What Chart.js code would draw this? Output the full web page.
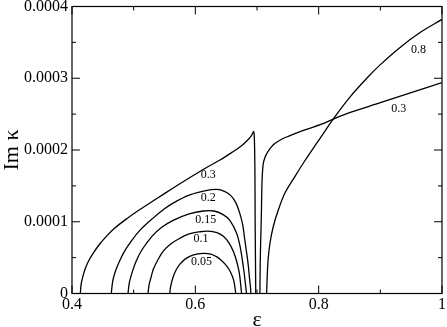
<!DOCTYPE html>
<html><head><meta charset="utf-8">
<script src="https://cdn.jsdelivr.net/npm/chart.js@4/dist/chart.umd.min.js"></script>
<style>html,body{margin:0;padding:0;background:#fff}#wrap{width:447px;height:327px}</style>
</head><body><div id="wrap"><canvas id="c" width="447" height="327"></canvas></div>
<script>
// ---- data (Im kappa in units of 1e-4) ----
const UNIT = 1e-4;
const eps005 = [.5585,.56,.564,.569,.575,.585,.597,.613,.625,.635,.645,.651,.657,.662,.664,.6655];
const im005  = [0,.1,.23,.33,.41,.49,.54,.56,.55,.51,.44,.38,.3,.19,.1,0];
const eps01  = [.5232,.525,.528,.532,.54,.548,.56,.575,.59,.607,.62,.635,.645,.655,.662,.667,.671,.673,.675];
const im01   = [0,.12,.22,.34,.48,.59,.69,.77,.83,.86,.87,.85,.8,.7,.58,.45,.3,.17,0];
const eps015 = [.4908,.493,.497,.504,.5135,.53,.545,.564,.59,.613,.63,.645,.656,.667,.672,.676,.679,.681,.683];
const im015  = [0,.15,.28,.45,.61,.8,.92,1.02,1.11,1.15,1.15,1.1,1.02,.84,.68,.48,.3,.15,0];
const eps02  = [.4637,.466,.47,.477,.486,.497,.51,.53,.55,.564,.59,.615,.635,.648,.658,.666,.672,.677,.680,.684,.686,.688,.6895,.690];
const im02   = [0,.17,.3,.45,.6,.74,.88,1.04,1.18,1.26,1.37,1.43,1.45,1.42,1.36,1.26,1.12,.95,.76,.52,.38,.2,.08,0];
const eps03a = [.4135,.415,.418,.422,.428,.435,.445,.455,.4676,.49,.51,.537,.564,.59,.617,.64,.66,.675,.685,.691,.6945,.6955,.6962,.6967,.697,.6975,.698];
const im03a  = [0,.14,.25,.36,.47,.57,.69,.79,.9,1.05,1.17,1.32,1.47,1.61,1.75,1.86,1.97,2.06,2.14,2.2,2.26,2.2,2.0,1.6,1.0,.5,0];
const eps03b = [.7047,.7053,.7065,.7072,.7078,.7085,.710,.713,.718,.723,.729,.74,.7506,.7776,.8047,.8235,.85,.9,.95,1];
const im03b  = [0,.47,.9,1.16,1.45,1.63,1.8,1.9,1.98,2.04,2.09,2.15,2.19,2.28,2.36,2.43,2.52,2.66,2.8,2.94];
const eps08  = [.7155,.716,.7165,.718,.721,.7263,.7344,.7453,.7614,.7776,.794,.81,.8235,.85,.878,.9,.932,.965,1];
const im08   = [0,.1,.23,.47,.70,.93,1.16,1.40,1.63,1.85,2.06,2.26,2.43,2.73,3.0,3.19,3.43,3.64,3.82];

const xTickLabels = ['0.4','0.6','0.8','1'];
const yTickLabels = ['0','0.0001','0.0002','0.0003','0.0004'];
const xMajor = [0.4,0.6,0.8,1.0];
const xMinor = [0.5,0.7,0.9];
const yMajor = [0,1,2,3,4];
const yMinor = [0.5,1.5,2.5,3.5];

// curve labels: text, eps, Im (1e-4)
const labelText = ['0.3','0.2','0.15','0.1','0.05','0.8','0.3'];
const labelEps  = [.621,.621,.617,.609,.610,.962,.930];
const labelIm   = [1.65,1.33,1.02,.755,.435,3.39,2.57];

const curves = [[eps005,im005],[eps01,im01],[eps015,im015],[eps02,im02],[eps03a,im03a],[eps03b,im03b],[eps08,im08]];
const datasets = curves.map(([ex,iy]) => ({
  data: ex.map((e,i)=>({x:e, y:iy[i]*UNIT})),
  showLine:true, pointRadius:0, borderColor:'#000', borderWidth:1.3,
  tension:0.35, fill:false
}));

const SERIF = "'Liberation Serif','Times New Roman',serif";

const deco = {
  id:'deco',
  afterDatasetsDraw(chart){
    const {ctx, chartArea:a, scales:{x,y}} = chart;
    ctx.save();
    ctx.strokeStyle='#000'; ctx.lineWidth=1.2;
    ctx.strokeRect(a.left, a.top, a.right-a.left, a.bottom-a.top);
    ctx.lineWidth=1;
    const tick=(x1,y1,x2,y2)=>{ctx.beginPath();ctx.moveTo(x1,y1);ctx.lineTo(x2,y2);ctx.stroke();};
    xMajor.forEach(v=>{const p=x.getPixelForValue(v); tick(p,a.bottom,p,a.bottom-8); tick(p,a.top,p,a.top+8);});
    xMinor.forEach(v=>{const p=x.getPixelForValue(v); tick(p,a.bottom,p,a.bottom-4); tick(p,a.top,p,a.top+4);});
    yMajor.forEach(v=>{const p=y.getPixelForValue(v*UNIT); tick(a.left,p,a.left+8,p); tick(a.right,p,a.right-8,p);});
    yMinor.forEach(v=>{const p=y.getPixelForValue(v*UNIT); tick(a.left,p,a.left+4,p); tick(a.right,p,a.right-4,p);});
    // curve labels
    ctx.fillStyle='#000';
    ctx.font='12px '+SERIF; ctx.textAlign='center'; ctx.textBaseline='middle';
    labelText.forEach((t,i)=>ctx.fillText(t, x.getPixelForValue(labelEps[i]), y.getPixelForValue(labelIm[i]*UNIT)));
    // axis titles
    ctx.font='22px '+SERIF; ctx.textBaseline='alphabetic';
    ctx.fillText('\u03b5', (a.left+a.right)/2, 326);
    ctx.save();
    ctx.translate(18, (a.top+a.bottom)/2);
    ctx.rotate(-Math.PI/2);
    ctx.fillText('Im \u03ba', 0, 0);
    ctx.restore();
    ctx.restore();
  }
};

new Chart(document.getElementById('c'), {
  type:'scatter',
  data:{datasets},
  options:{
    responsive:false, animation:false, devicePixelRatio:1,
    layout:{padding:{top:6.5,right:5,left:0,bottom:0}},
    plugins:{legend:{display:false}, tooltip:{enabled:false}},
    scales:{
      x:{type:'linear', min:0.4, max:1,
        grid:{display:false, drawTicks:false}, border:{display:false},
        ticks:{stepSize:0.2, padding:2, color:'#000', font:{family:SERIF,size:16},
          maxRotation:0, autoSkip:false, callback:(v,i)=>xTickLabels[i]},
        afterFit:s=>{s.height=33.5; s.paddingLeft=0; s.paddingRight=0;}
      },
      y:{type:'linear', min:0, max:0.0004,
        grid:{display:false, drawTicks:false}, border:{display:false},
        ticks:{stepSize:0.0001, padding:4, color:'#000', font:{family:SERIF,size:16},
          autoSkip:false, callback:(v,i)=>yTickLabels[i]},
        afterFit:s=>{s.width=72; s.paddingTop=0; s.paddingBottom=0;}
      }
    }
  },
  plugins:[deco]
});
</script></body></html>
